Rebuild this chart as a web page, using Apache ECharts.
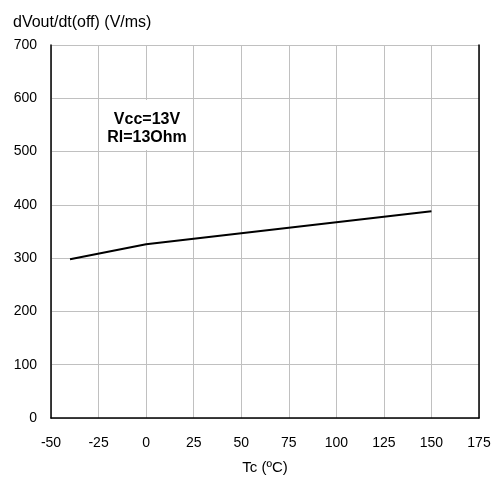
<!DOCTYPE html>
<html>
<head>
<meta charset="utf-8">
<script src="https://cdn.jsdelivr.net/npm/echarts@6/dist/echarts.min.js"></script>
<style>
html,body{margin:0;padding:0;background:#fff;}
#c{width:501px;height:481px;}
</style>
</head>
<body>
<div id="c"></div>
<script>
var temps = [-40, 0, 150];
var slewRates = [298, 326, 388];
var yTitle = 'dVout/dt(off) (V/ms)';
var xTitle = 'Tc (ºC)';
var noteLines = ['Vcc=13V', 'Rl=13Ohm'];

var FONT = '"Liberation Sans", Arial, sans-serif';
var chart = echarts.init(document.getElementById('c'), null, {renderer: 'canvas'});
var data = temps.map(function (t, i) { return [t, slewRates[i]]; });

chart.setOption({
  animation: false,
  backgroundColor: '#fff',
  grid: {left: 51, right: 22, top: 45, bottom: 63, containLabel: false},
  title: {
    text: yTitle, left: 8, top: 10,
    textStyle: {fontFamily: FONT, fontSize: 16, fontWeight: 'normal', color: '#000'}
  },
  xAxis: {
    type: 'value', min: -50, max: 175, interval: 25,
    name: xTitle, nameLocation: 'middle', nameGap: 42,
    nameTextStyle: {fontFamily: FONT, fontSize: 15, color: '#000'},
    axisLine: {show: true, onZero: false, lineStyle: {color: '#000', width: 1.5}},
    axisTick: {show: false},
    axisLabel: {fontFamily: FONT, fontSize: 14, color: '#000', margin: 18},
    splitLine: {show: true, lineStyle: {color: '#c0c0c0', width: 1}}
  },
  yAxis: [{
    type: 'value', min: 0, max: 700, interval: 100,
    axisLine: {show: true, onZero: false, lineStyle: {color: '#000', width: 1.5}},
    axisTick: {show: false},
    axisLabel: {fontFamily: FONT, fontSize: 14, color: '#000', margin: 14},
    splitLine: {show: true, lineStyle: {color: '#c0c0c0', width: 1}}
  }, {
    type: 'value', min: 0, max: 700, interval: 100, position: 'right',
    axisLine: {show: true, onZero: false, lineStyle: {color: '#000', width: 1.5}},
    axisTick: {show: false}, axisLabel: {show: false}, splitLine: {show: false}
  }],
  series: [{
    type: 'line', data: data, yAxisIndex: 0,
    symbol: 'none', lineStyle: {color: '#000', width: 2}
  }],
  graphic: [{
    type: 'text', x: 147, y: 100, z: 100,
    style: {
      text: noteLines.join('\n'),
      font: 'bold 16px ' + FONT,
      fill: '#000', align: 'center', verticalAlign: 'top', lineHeight: 18,
      backgroundColor: '#fff', padding: [11, 5, 3, 5]
    }
  }]
});
</script>
</body>
</html>
